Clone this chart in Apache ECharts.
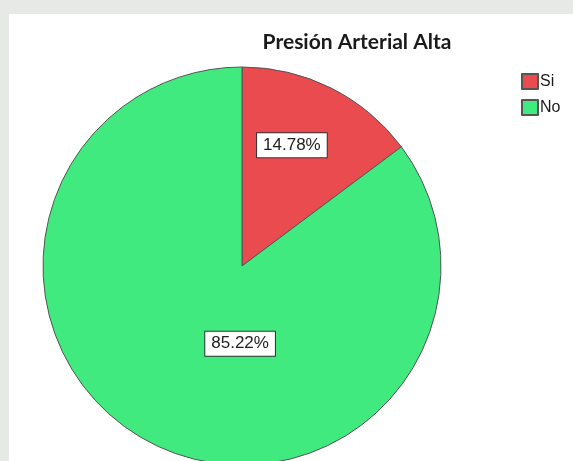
<!DOCTYPE html>
<html>
<head>
<meta charset="utf-8">
<script src="https://cdn.jsdelivr.net/npm/echarts@6/dist/echarts.min.js"></script>
<style>
html,body{margin:0;padding:0;background:#e6e9e6;}
#c{width:573px;height:461px;}
</style>
</head>
<body>
<div id="c"></div>
<script>
const titleText = 'Presión Arterial Alta';
const categories = ['Si', 'No'];
const percentages = [14.78, 85.22];
const colors = ['#ea4b4f', '#41ea7f'];

const chart = echarts.init(document.getElementById('c'));
const labelOffsets = [[4, -29], [44, -14]];
chart.setOption({
  backgroundColor: '#e6e9e6',
  animation: false,
  graphic: [{
    type: 'rect', z: -10, silent: true,
    shape: {x: 9, y: 14, width: 564, height: 447},
    style: {fill: '#ffffff'}
  }],
  title: {
    text: titleText,
    left: 357, top: 32, textAlign: 'center', padding: 0,
    textStyle: {fontFamily: 'Lato', fontWeight: 'bold', fontSize: 21, color: '#1a1a1a'}
  },
  legend: {
    orient: 'vertical', left: 521, top: 73, padding: 0,
    itemWidth: 16, itemHeight: 15, itemGap: 9,
    icon: 'rect',
    textStyle: {fontFamily: 'Liberation Sans', fontSize: 16, color: '#1a1a1a', padding: [0, 0, 0, -3]},
    data: categories
  },
  series: [{
    type: 'pie',
    center: [242, 266],
    radius: 199,
    startAngle: 90,
    clockwise: true,
    avoidLabelOverlap: false,
    itemStyle: {borderColor: '#555', borderWidth: 1},
    label: {
      show: true, position: 'inside',
      formatter: p => p.value.toFixed(2) + '%',
      fontFamily: 'Liberation Sans', fontSize: 17, color: '#222',
      backgroundColor: '#ffffff', borderColor: '#333', borderWidth: 1,
      padding: [4, 6, 3, 6]
    },
    labelLine: {show: false},
    data: categories.map((c, i) => ({
      name: c, value: percentages[i],
      itemStyle: {color: colors[i]},
      label: {offset: labelOffsets[i]}
    }))
  }]
});
</script>
</body>
</html>
